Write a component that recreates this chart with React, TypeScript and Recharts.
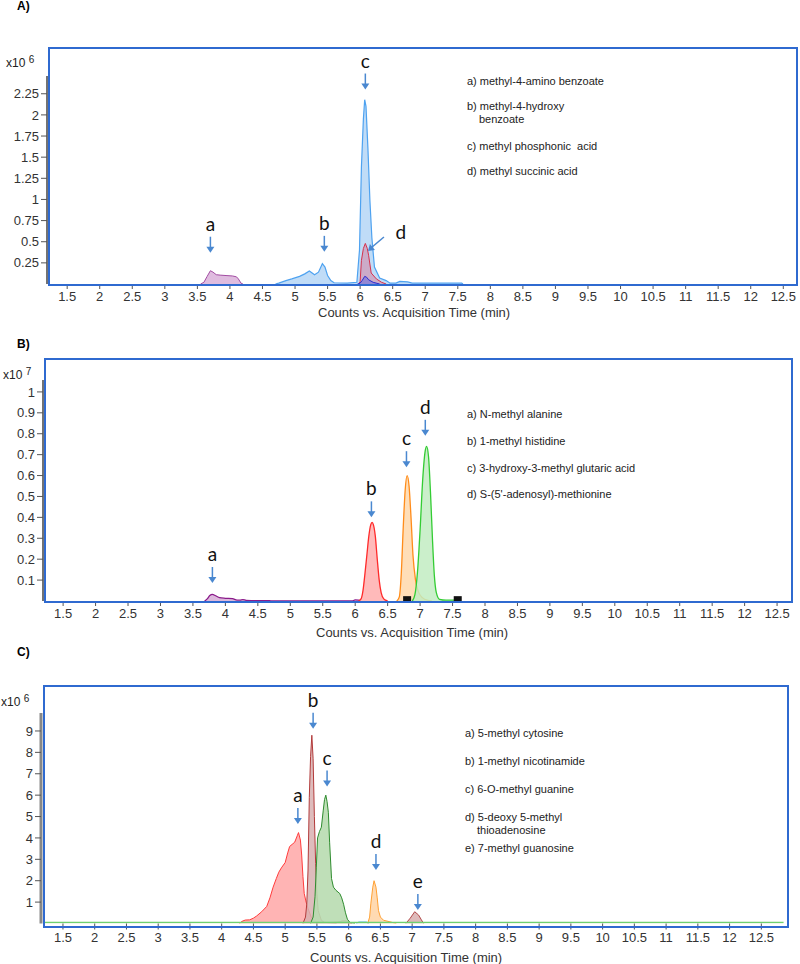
import React from 'react';
import { ComposedChart, Area, Line, Scatter, XAxis, YAxis, ReferenceDot } from 'recharts';

type Pair = [number, number];

const xTicks = [1.5, 2, 2.5, 3, 3.5, 4, 4.5, 5, 5.5, 6, 6.5, 7, 7.5, 8, 8.5, 9, 9.5, 10, 10.5, 11, 11.5, 12, 12.5];
const timeLabel = 'Counts vs. Acquisition Time (min)';

// ---- panel A (x10^6)
const aTicks = [0.25, 0.5, 0.75, 1, 1.25, 1.5, 1.75, 2, 2.25];
const aAmino: Pair[] = [[3.55, 0], [3.6, 0.02], [3.65, 0.09], [3.7, 0.157], [3.74, 0.14], [3.79, 0.11], [3.85, 0.105], [3.94, 0.1], [4.04, 0.095], [4.1, 0.085], [4.13, 0.06], [4.17, 0.01], [4.2, 0]];
const aHydroxyPhosphonic: Pair[] = [[4.7, 0], [4.75, 0.01], [4.86, 0.04], [4.95, 0.06], [5.07, 0.09], [5.15, 0.12], [5.22, 0.155], [5.3, 0.11], [5.36, 0.14], [5.42, 0.24], [5.46, 0.2], [5.5, 0.1], [5.55, 0.04], [5.6, 0.015], [5.8, 0.01], [5.95, 0.02], [5.99, 0.4], [6.02, 1.39], [6.05, 1.95], [6.07, 2.18], [6.09, 2.1], [6.12, 1.6], [6.15, 0.99], [6.18, 0.55], [6.22, 0.2], [6.3, 0.07], [6.4, 0.04], [6.46, 0.01], [6.55, 0.01], [6.61, 0.03], [6.73, 0.025], [6.8, 0.01], [7.56, 0.01], [7.58, 0]];
const aSuccinic: Pair[] = [[5.98, 0], [6.0, 0.03], [6.02, 0.28], [6.05, 0.42], [6.08, 0.48], [6.11, 0.42], [6.13, 0.34], [6.17, 0.13], [6.25, 0.06], [6.33, 0.02], [6.4, 0]];
const aOther: Pair[] = [[5.96, 0], [6.0, 0.01], [6.03, 0.04], [6.07, 0.09], [6.1, 0.08], [6.13, 0.05], [6.2, 0.02], [6.3, 0]];
const aMarks = [
  { t: 3.7, v: 0.37, label: 'a' },
  { t: 5.45, v: 0.38, label: 'b' },
  { t: 6.08, v: 2.3, label: 'c' },
  { t: 6.12, v: 0.39, label: 'd', slant: true },
];
const aNames = ['a) methyl-4-amino benzoate', 'b) methyl-4-hydroxy', 'benzoate', 'c) methyl phosphonic  acid', 'd) methyl succinic acid'];

// ---- panel B (x10^7)
const bTicks = [0.1, 0.2, 0.3, 0.4, 0.5, 0.6, 0.7, 0.8, 0.9, 1];
const bAlanine: Pair[] = [[3.68, 0], [3.72, 0.01], [3.76, 0.026], [3.8, 0.032], [3.85, 0.025], [3.91, 0.016], [4.0, 0.013], [4.11, 0.011], [4.18, 0.004], [4.22, 0.004], [4.27, 0.007], [4.32, 0.003], [4.5, 0.002], [4.68, 0.002], [4.72, 0], [5.95, 0], [6.0, 0.005], [6.05, 0.004], [6.08, 0]];
const bHistidine: Pair[] = [[6.05, 0], [6.09, 0.01], [6.12, 0.05], [6.15, 0.13], [6.18, 0.22], [6.21, 0.31], [6.24, 0.365], [6.26, 0.376], [6.28, 0.365], [6.31, 0.31], [6.34, 0.2], [6.37, 0.1], [6.4, 0.04], [6.44, 0.01], [6.5, 0]];
const bGlutaric: Pair[] = [[6.64, 0], [6.68, 0.02], [6.71, 0.13], [6.74, 0.35], [6.77, 0.53], [6.8, 0.6], [6.83, 0.55], [6.86, 0.4], [6.89, 0.22], [6.93, 0.1], [6.98, 0.04], [7.04, 0.015], [7.12, 0.003], [7.18, 0]];
const bMethionine: Pair[] = [[6.88, 0], [6.92, 0.03], [6.96, 0.14], [7.0, 0.34], [7.04, 0.58], [7.08, 0.72], [7.1, 0.74], [7.13, 0.69], [7.16, 0.52], [7.19, 0.3], [7.22, 0.12], [7.25, 0.04], [7.3, 0.008], [7.4, 0.004], [7.55, 0.004], [7.6, 0]];
const bFlags: Pair[] = [[6.8, 0.004], [7.58, 0.004]];
const bMarks = [
  { t: 3.8, v: 0.086, label: 'a' },
  { t: 6.25, v: 0.4, label: 'b' },
  { t: 6.79, v: 0.64, label: 'c' },
  { t: 7.08, v: 0.79, label: 'd' },
];
const bNames = ['a) N-methyl alanine', 'b) 1-methyl histidine', 'c) 3-hydroxy-3-methyl glutaric acid', "d) S-(5'-adenosyl)-methionine"];

// ---- panel C (x10^6)
const cTicks = [1, 2, 3, 4, 5, 6, 7, 8, 9];
const cCytosine: Pair[] = [[4.28, 0], [4.32, 0.1], [4.37, 0.16], [4.44, 0.17], [4.5, 0.25], [4.55, 0.35], [4.63, 0.55], [4.71, 0.8], [4.76, 1.2], [4.81, 1.7], [4.86, 2.1], [4.9, 2.4], [4.94, 2.6], [5.0, 2.85], [5.04, 3.3], [5.07, 3.6], [5.11, 3.7], [5.15, 3.8], [5.19, 4.1], [5.21, 4.25], [5.24, 3.9], [5.26, 3.2], [5.28, 2.2], [5.3, 1.4], [5.33, 1.0], [5.36, 0.7], [5.41, 0.3], [5.46, 0.15], [5.54, 0.05], [5.7, 0.05], [5.85, 0.08], [5.92, 0.12], [5.98, 0.1], [6.03, 0]];
const cNicotinamide: Pair[] = [[5.28, 0], [5.32, 0.3], [5.34, 0.9], [5.36, 2.5], [5.38, 5.9], [5.4, 7.8], [5.42, 8.8], [5.44, 7.7], [5.46, 5.0], [5.48, 2.8], [5.5, 1.4], [5.52, 0.6], [5.57, 0.15], [5.62, 0.05], [5.8, 0.03], [5.9, 0.12], [5.97, 0.12], [6.05, 0]];
const cGuanine: Pair[] = [[5.4, 0], [5.44, 0.3], [5.47, 1.25], [5.49, 2.6], [5.51, 4.0], [5.54, 4.3], [5.57, 4.5], [5.6, 5.3], [5.62, 5.8], [5.64, 6.0], [5.66, 5.7], [5.68, 5.2], [5.7, 3.8], [5.73, 2.1], [5.76, 1.7], [5.8, 1.55], [5.86, 1.4], [5.89, 1.2], [5.92, 0.9], [5.95, 0.5], [5.98, 0.2], [6.02, 0.05], [6.1, 0]];
const cUnknown: Pair[] = [[6.12, 0], [6.16, 0.07], [6.28, 0.07], [6.32, 0]];
const cThioadenosine: Pair[] = [[6.3, 0], [6.33, 0.3], [6.35, 0.95], [6.38, 1.7], [6.4, 2.0], [6.43, 1.7], [6.45, 1.2], [6.47, 0.6], [6.5, 0.3], [6.55, 0.15], [6.65, 0.08], [6.75, 0]];
const cGuanosine: Pair[] = [[6.9, 0], [6.97, 0.25], [7.04, 0.55], [7.1, 0.4], [7.14, 0.2], [7.18, 0]];
const cBaseline: Pair[] = [[1.19, 0.05], [12.85, 0.05]];
const cMarks = [
  { t: 5.2, v: 4.65, label: 'a' },
  { t: 5.44, v: 9.1, label: 'b' },
  { t: 5.66, v: 6.4, label: 'c' },
  { t: 6.43, v: 2.5, label: 'd' },
  { t: 7.09, v: 0.63, label: 'e' },
];
const cNames = ['a) 5-methyl cytosine', 'b) 1-methyl nicotinamide', 'c) 6-O-methyl guanine', 'd) 5-deoxy 5-methyl', 'thioadenosine', 'e) 7-methyl guanosine'];

const pts = (arr: Pair[]) => arr.map(([t, v]) => ({ t, v }));

const sans = '"Liberation Sans", Arial, sans-serif';
const tickStyle = { fontSize: 13, fill: '#333', fontFamily: sans };
const arrowBlue = '#4a88d0';

const ArrowMark = ({ cx, cy, label, slant }: any) => {
  if (cx == null || cy == null) return null;
  if (slant) {
    return (
      <g>
        <line x1={cx + 16} y1={cy - 14} x2={cx + 3} y2={cy - 3} stroke={arrowBlue} strokeWidth={1.5} />
        <polygon points={`${cx},${cy} ${cx + 7},${cy - 1} ${cx + 2},${cy - 7}`} fill={arrowBlue} />
        <text x={cx + 33} y={cy - 12} textAnchor="middle" fontSize={19} fontFamily="Lato, sans-serif" fill="#111">{label}</text>
      </g>
    );
  }
  return (
    <g>
      <line x1={cx} y1={cy - 16} x2={cx} y2={cy - 5} stroke={arrowBlue} strokeWidth={1.5} />
      <polygon points={`${cx - 4},${cy - 6} ${cx + 4},${cy - 6} ${cx},${cy}`} fill={arrowBlue} />
      <text x={cx} y={cy - 22} textAnchor="middle" fontSize={19} fontFamily="Lato, sans-serif" fill="#111">{label}</text>
    </g>
  );
};

const FlagSquare = (p: any) => <rect x={p.cx - 4} y={p.cy - 4} width={8} height={5} fill="#111" />;

const abs = (s: React.CSSProperties): React.CSSProperties => ({ position: 'absolute', ...s });

const Frame = ({ l, t, r, b }: { l: number; t: number; r: number; b: number }) => (
  <div style={abs({ left: l, top: t, width: r - l, height: b - t, border: '2.5px solid #2f6ad0', boxSizing: 'border-box', pointerEvents: 'none' })} />
);

const Exp = ({ x, y, p }: { x: number; y: number; p: string }) => (
  <div style={abs({ left: x, top: y, fontFamily: sans, fontSize: 12, color: '#222', whiteSpace: 'nowrap' })}>
    x10 <sup style={{ fontSize: 10, verticalAlign: 4 }}>{p}</sup>
  </div>
);

const Names = ({ x, y, names, gaps, indent }: { x: number; y: number; names: string[]; gaps: number[]; indent: number[] }) => (
  <>
    {names.map((n, i) => (
      <div key={n} style={abs({ left: x + (indent.includes(i) ? 12 : 0), top: y + gaps[i], fontFamily: sans, fontSize: 11, color: '#222', whiteSpace: 'pre' })}>{n}</div>
    ))}
  </>
);

export default function App() {
  return (
    <div style={abs({ left: 0, top: 0, width: 800, height: 964, background: '#fff', overflow: 'hidden' })}>
      {/* Panel A */}
      <div style={abs({ left: 17, top: -1, fontFamily: sans, fontWeight: 'bold', fontSize: 12 })}>A)</div>
      <Exp x={6} y={54} p="6" />
      <div style={abs({ left: 0, top: 0 })}>
        <ComposedChart width={800} height={330} margin={{ top: 76, right: 5, bottom: 16, left: 0 }}>
          <XAxis dataKey="t" type="number" domain={[1.19, 12.68]} ticks={xTicks} allowDataOverflow axisLine={false} tickLine={{ stroke: '#555' }} tickSize={5} tickMargin={3} tick={tickStyle} height={30} interval={0} />
          <YAxis type="number" domain={[0, 2.46]} ticks={aTicks} interval={0} allowDataOverflow width={47} axisLine={{ stroke: '#444', strokeWidth: 1.5 }} tickLine={{ stroke: '#555' }} tick={tickStyle} />
          <Area data={pts(aAmino)} dataKey="v" type="linear" stroke="#a24ca2" strokeWidth={1} fill="#dcb5dc" fillOpacity={0.9} isAnimationActive={false} />
          <Area data={pts(aHydroxyPhosphonic)} dataKey="v" type="linear" stroke="#4ea2f0" strokeWidth={1.2} fill="#b5d6f6" fillOpacity={0.85} isAnimationActive={false} />
          <Area data={pts(aSuccinic)} dataKey="v" type="linear" stroke="#d6304c" strokeWidth={1} fill="#d48aa8" fillOpacity={0.6} isAnimationActive={false} />
          <Area data={pts(aOther)} dataKey="v" type="linear" stroke="#2b2bd0" strokeWidth={1} fill="#7a78d8" fillOpacity={0.7} isAnimationActive={false} />
          {aMarks.map((m) => (
            <ReferenceDot key={m.label} x={m.t} y={m.v} shape={(p: any) => <ArrowMark cx={p.cx} cy={p.cy} label={m.label} slant={m.slant} />} />
          ))}
        </ComposedChart>
      </div>
      <Frame l={48} t={47} r={798} b={286} />
      <Names x={467} y={75} names={aNames} gaps={[0, 25, 38, 65, 90]} indent={[2]} />
      <div style={abs({ left: 318, top: 305, fontFamily: sans, fontSize: 13, color: '#333', whiteSpace: 'nowrap' })}>{timeLabel}</div>

      {/* Panel B */}
      <div style={abs({ left: 17, top: 337, fontFamily: sans, fontWeight: 'bold', fontSize: 12 })}>B)</div>
      <Exp x={3} y={366} p="7" />
      <div style={abs({ left: 0, top: 330 })}>
        <ComposedChart width={800} height={320} margin={{ top: 50, right: 8, bottom: 19, left: 0 }}>
          <XAxis dataKey="t" type="number" domain={[1.19, 12.73]} ticks={xTicks} allowDataOverflow axisLine={false} tickLine={{ stroke: '#555' }} tickSize={5} tickMargin={3} tick={tickStyle} height={30} interval={0} />
          <YAxis type="number" domain={[0, 1.057]} ticks={bTicks} interval={0} allowDataOverflow width={43} axisLine={{ stroke: '#444', strokeWidth: 1.5 }} tickLine={{ stroke: '#555' }} tick={tickStyle} />
          <Area data={pts(bAlanine)} dataKey="v" type="monotone" stroke="#8a1b8a" strokeWidth={1.3} fill="#d8b0d8" fillOpacity={0.9} isAnimationActive={false} />
          <Area data={pts(bHistidine)} dataKey="v" type="monotone" stroke="#ff2a2a" strokeWidth={1.3} fill="#ffb3b3" fillOpacity={0.9} isAnimationActive={false} />
          <Area data={pts(bGlutaric)} dataKey="v" type="monotone" stroke="#ff8c1a" strokeWidth={1.3} fill="#ffd8ab" fillOpacity={0.85} isAnimationActive={false} />
          <Area data={pts(bMethionine)} dataKey="v" type="monotone" stroke="#33cc33" strokeWidth={1.3} fill="#c2ecc2" fillOpacity={0.85} isAnimationActive={false} />
          <Scatter data={pts(bFlags)} dataKey="v" shape={FlagSquare} isAnimationActive={false} />
          {bMarks.map((m) => (
            <ReferenceDot key={m.label} x={m.t} y={m.v} shape={(p: any) => <ArrowMark cx={p.cx} cy={p.cy} label={m.label} />} />
          ))}
        </ComposedChart>
      </div>
      <Frame l={44} t={358} r={793} b={603} />
      <Names x={467} y={408} names={bNames} gaps={[0, 27, 54, 80]} indent={[]} />
      <div style={abs({ left: 316, top: 625, fontFamily: sans, fontSize: 13, color: '#333', whiteSpace: 'nowrap' })}>{timeLabel}</div>

      {/* Panel C */}
      <div style={abs({ left: 17, top: 645, fontFamily: sans, fontWeight: 'bold', fontSize: 12 })}>C)</div>
      <Exp x={1} y={693} p="6" />
      <div style={abs({ left: 0, top: 640 })}>
        <ComposedChart width={800} height={324} margin={{ top: 73, right: 12, bottom: 10.5, left: 0 }}>
          <XAxis dataKey="t" type="number" domain={[1.154, 12.92]} ticks={xTicks} allowDataOverflow axisLine={false} tickLine={{ stroke: '#555' }} tickSize={6} tickMargin={3} tick={tickStyle} height={30} interval={0} />
          <YAxis type="number" domain={[0, 9.84]} ticks={cTicks} interval={0} allowDataOverflow width={41} axisLine={{ stroke: '#888', strokeWidth: 3 }} tickLine={{ stroke: '#555' }} tick={tickStyle} />
          <Line data={pts(cBaseline)} dataKey="v" type="linear" stroke="#6fd06f" strokeWidth={1.5} dot={false} isAnimationActive={false} />
          <Area data={pts(cCytosine)} dataKey="v" type="linear" stroke="#ff3b3b" strokeWidth={1} fill="#ffb0b0" fillOpacity={0.95} isAnimationActive={false} />
          <Area data={pts(cNicotinamide)} dataKey="v" type="linear" stroke="#b23a3a" strokeWidth={1} fill="#d8b0b0" fillOpacity={0.85} isAnimationActive={false} />
          <Area data={pts(cGuanine)} dataKey="v" type="linear" stroke="#2e8b2e" strokeWidth={1} fill="#b8dbb0" fillOpacity={0.9} isAnimationActive={false} />
          <Area data={pts(cUnknown)} dataKey="v" type="linear" stroke="#5ab0f0" strokeWidth={1} fill="#a8d4f6" fillOpacity={0.9} isAnimationActive={false} />
          <Area data={pts(cThioadenosine)} dataKey="v" type="linear" stroke="#ffa033" strokeWidth={1} fill="#ffd6aa" fillOpacity={0.9} isAnimationActive={false} />
          <Area data={pts(cGuanosine)} dataKey="v" type="linear" stroke="#b04848" strokeWidth={1} fill="#dab2b2" fillOpacity={0.9} isAnimationActive={false} />
          {cMarks.map((m) => (
            <ReferenceDot key={m.label} x={m.t} y={m.v} shape={(p: any) => <ArrowMark cx={p.cx} cy={p.cy} label={m.label} />} />
          ))}
        </ComposedChart>
      </div>
      <Frame l={43} t={685} r={789} b={928} />
      <Names x={465} y={727} names={cNames} gaps={[0, 28, 56, 84, 97, 115]} indent={[4]} />
      <div style={abs({ left: 310, top: 950, fontFamily: sans, fontSize: 13, color: '#333', whiteSpace: 'nowrap' })}>{timeLabel}</div>
    </div>
  );
}
